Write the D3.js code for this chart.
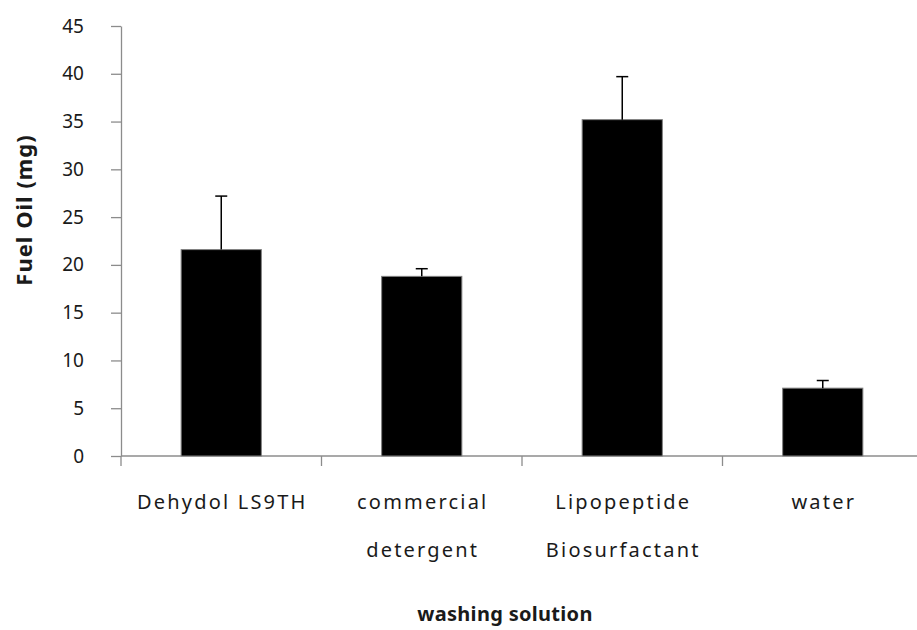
<!DOCTYPE html>
<html>
<head>
<meta charset="utf-8">
<script src="https://cdn.jsdelivr.net/npm/d3@7"></script>
<style>
  html, body { margin: 0; padding: 0; background: #fff; }
  svg { display: block; }
  text { font-family: "Noto Sans", "Open Sans", sans-serif; fill: #1a1a1a; }
</style>
</head>
<body>
<svg id="chart" width="917" height="630"></svg>
<script>
// Washing solutions and recovered fuel oil (mg), with standard deviation
const categories = ["Dehydol LS9TH", "commercial\ndetergent", "Lipopeptide\nBiosurfactant", "water"];
const fuelOil = [21.6, 18.8, 35.2, 7.1];
const stdDev = [5.6, 0.8, 4.5, 0.8];
const yTicks = [0, 5, 10, 15, 20, 25, 30, 35, 40, 45];
const yTitle = "Fuel Oil (mg)";
const xTitle = "washing solution";

const svg = d3.select("#chart");
const plot = { left: 121, right: 923, top: 26, bottom: 456 };
const axisColor = "#8c8c8c";

const x = d3.scaleBand()
  .domain(categories)
  .range([plot.left, plot.right])
  .paddingInner(0.6)
  .paddingOuter(0.3);

const y = d3.scaleLinear().domain([0, 45]).range([plot.bottom, plot.top]);

// y axis
const yAxis = svg.append("g")
  .attr("transform", `translate(${plot.left},0)`)
  .call(d3.axisLeft(y).tickValues(yTicks).tickSize(10).tickPadding(27).tickSizeOuter(0));
yAxis.select(".domain").attr("stroke", axisColor).attr("stroke-width", 1.3);
yAxis.selectAll(".tick line").attr("stroke", axisColor).attr("stroke-width", 1.3);
yAxis.selectAll(".tick text")
  .style("font-size", "19px")
  .style("font-family", "'Noto Sans', sans-serif")
  .attr("fill", "#1a1a1a");

// x axis baseline with ticks at category boundaries
const step = x.step();
const xStart = x(categories[0]) - step * x.paddingOuter();
const xAxis = svg.append("g");
xAxis.append("line")
  .attr("x1", plot.left).attr("x2", plot.right)
  .attr("y1", y(0)).attr("y2", y(0))
  .attr("stroke", axisColor).attr("stroke-width", 1.3);
xAxis.selectAll("line.btick")
  .data(d3.range(categories.length + 1))
  .join("line")
  .attr("class", "btick")
  .attr("x1", i => xStart + i * step).attr("x2", i => xStart + i * step)
  .attr("y1", y(0)).attr("y2", y(0) + 10)
  .attr("stroke", axisColor).attr("stroke-width", 1.3);

// bars
svg.append("g").selectAll("rect")
  .data(categories)
  .join("rect")
  .attr("x", d => x(d))
  .attr("width", x.bandwidth())
  .attr("y", (d, i) => y(fuelOil[i]))
  .attr("height", (d, i) => y(0) - y(fuelOil[i]))
  .attr("fill", "#000")
  .attr("stroke", "#808080")
  .attr("stroke-width", 1);

// upper error bars
const eb = svg.append("g").attr("stroke", "#000").attr("stroke-width", 1.5);
categories.forEach((c, i) => {
  const cx = x(c) + x.bandwidth() / 2;
  eb.append("line")
    .attr("x1", cx).attr("x2", cx)
    .attr("y1", y(fuelOil[i])).attr("y2", y(fuelOil[i] + stdDev[i]));
  eb.append("line")
    .attr("x1", cx - 6).attr("x2", cx + 6)
    .attr("y1", y(fuelOil[i] + stdDev[i])).attr("y2", y(fuelOil[i] + stdDev[i]));
});

// category labels
const lab = svg.append("g");
categories.forEach(c => {
  const cx = x(c) + x.bandwidth() / 2;
  c.split("\n").forEach((line, j) => {
    lab.append("text")
      .attr("x", cx + 1)
      .attr("y", 509 + j * 48)
      .attr("text-anchor", "middle")
      .style("font-size", "20px")
      .style("letter-spacing", "2.2px")
      .text(line);
  });
});

// axis titles
svg.append("text")
  .attr("x", 505).attr("y", 621)
  .attr("text-anchor", "middle")
  .style("font-size", "20px")
  .style("font-weight", "bold")
  .style("letter-spacing", "0.3px")
  .text(xTitle);

svg.append("text")
  .attr("transform", "translate(32,210) rotate(-90)")
  .attr("text-anchor", "middle")
  .style("font-size", "22px")
  .style("font-weight", "bold")
  .style("letter-spacing", "1px")
  .text(yTitle);
</script>
</body>
</html>
